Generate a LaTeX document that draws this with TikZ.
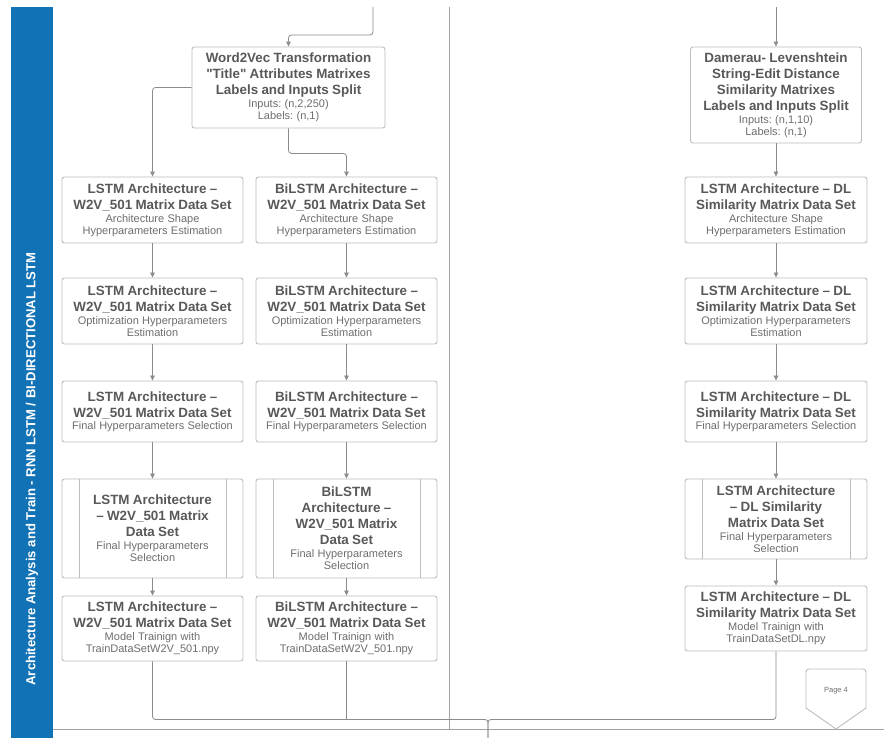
\documentclass[tikz,border=0pt]{standalone}
\usepackage{fontspec}
\setmainfont{Liberation Sans}[Ligatures=TeXOff]
\usetikzlibrary{arrows.meta,calc}
\frenchspacing

\definecolor{bannerblue}{HTML}{1272B6}
\definecolor{titlegray}{HTML}{595959}
\definecolor{subgray}{HTML}{6E6E6E}
\definecolor{boxgray}{HTML}{BDBDBD}
\definecolor{linegray}{HTML}{8C8C8C}
\definecolor{framegray}{HTML}{A3A3A3}

\newcommand\boxhead{\fontsize{13.4}{16}\selectfont\bfseries\color{titlegray}}
\newcommand\boxsub{\fontsize{11}{13}\selectfont\mdseries\color{subgray}}

\tikzset{
  card/.style 2 args={draw=boxgray, line width=0.9pt, rounded corners=2.5pt,
    fill=white, align=center, inner sep=0pt, text width=168pt,
    minimum width=#1pt, minimum height=#2pt},
  flow/.style={draw=linegray, line width=0.8pt, rounded corners=3pt,
    -{Triangle[length=5pt,width=4.6pt]}},
  joinline/.style={draw=linegray, line width=0.8pt, rounded corners=3pt},
  twin/.style={draw=boxgray, line width=0.9pt},
  frame/.style={draw=framegray, line width=0.8pt}
}

\begin{document}
\begin{tikzpicture}[x=1pt,y=-1pt]
\useasboundingbox (0,0) rectangle (884,738);
\fill[white] (0,0) rectangle (884,738);

% side banner
\fill[bannerblue] (11,7) rectangle (53,738);
\node[rotate=90, text=white, font=\fontsize{13.1}{15}\selectfont\bfseries] (banner) at (32,469)
  {Architecture Analysis and Train - RNN LSTM / BI-DIRECTIONAL LSTM};

% lane divider and bottom rule
\draw[frame] (449.5,7) -- (449.5,729);
\draw[frame] (53,729) -- (884,729);

% ---------- Word2Vec lane ----------
\node[card={193}{81}] (w2v) at (288.5,87.5)
  {\boxhead Word2Vec Transformation\par "Title" Attributes Matrixes\par Labels and Inputs Split\par
   \boxsub Inputs: (n,2,250)\par Labels: (n,1)};

\node[card={181}{66}] (l1) at (152.5,210)
  {\boxhead LSTM Architecture –\par W2V\_501 Matrix Data Set\par
   \boxsub Architecture Shape\par Hyperparameters Estimation};
\node[card={181}{66}] (b1) at (346.5,210)
  {\boxhead BiLSTM Architecture –\par W2V\_501 Matrix Data Set\par
   \boxsub Architecture Shape\par Hyperparameters Estimation};

\node[card={181}{66}] (l2) at (152.5,311)
  {\boxhead LSTM Architecture –\par W2V\_501 Matrix Data Set\par
   \boxsub Optimization Hyperparameters\par Estimation};
\node[card={181}{66}] (b2) at (346.5,311)
  {\boxhead BiLSTM Architecture –\par W2V\_501 Matrix Data Set\par
   \boxsub Optimization Hyperparameters\par Estimation};

\node[card={181}{61}] (l3) at (152.5,411.5)
  {\boxhead LSTM Architecture –\par W2V\_501 Matrix Data Set\par
   \boxsub Final Hyperparameters Selection};
\node[card={181}{61}] (b3) at (346.5,411.5)
  {\boxhead BiLSTM Architecture –\par W2V\_501 Matrix Data Set\par
   \boxsub Final Hyperparameters Selection};

\node[card={181}{99}] (l4) at (152.5,528.5)
  {\boxhead LSTM Architecture\par – W2V\_501 Matrix\par Data Set\par
   \boxsub Final Hyperparameters\par Selection};
\node[card={181}{99}] (b4) at (346.5,528.5)
  {\boxhead BiLSTM\par Architecture –\par W2V\_501 Matrix\par Data Set\par
   \boxsub Final Hyperparameters\par Selection};

\node[card={181}{65}] (l5) at (152.5,628.5)
  {\boxhead LSTM Architecture –\par W2V\_501 Matrix Data Set\par
   \boxsub Model Trainign with\par TrainDataSetW2V\_501.npy};
\node[card={181}{65}] (b5) at (346.5,628.5)
  {\boxhead BiLSTM Architecture –\par W2V\_501 Matrix Data Set\par
   \boxsub Model Trainign with\par TrainDataSetW2V\_501.npy};

% ---------- Damerau-Levenshtein lane ----------
\node[card={171}{96}] (dam) at (776,95)
  {\boxhead Damerau- Levenshtein\par String-Edit Distance\par Similarity Matrixes\par Labels and Inputs Split\par
   \boxsub Inputs: (n,1,10)\par Labels: (n,1)};

\node[card={182}{66}] (r1) at (776,210)
  {\boxhead LSTM Architecture – DL\par Similarity Matrix Data Set\par
   \boxsub Architecture Shape\par Hyperparameters Estimation};
\node[card={182}{66}] (r2) at (776,311)
  {\boxhead LSTM Architecture – DL\par Similarity Matrix Data Set\par
   \boxsub Optimization Hyperparameters\par Estimation};
\node[card={182}{61}] (r3) at (776,411.5)
  {\boxhead LSTM Architecture – DL\par Similarity Matrix Data Set\par
   \boxsub Final Hyperparameters Selection};
\node[card={182}{80}] (r4) at (776,519)
  {\boxhead LSTM Architecture\par – DL Similarity\par Matrix Data Set\par
   \boxsub Final Hyperparameters\par Selection};
\node[card={182}{65}] (r5) at (776,618.5)
  {\boxhead LSTM Architecture – DL\par Similarity Matrix Data Set\par
   \boxsub Model Trainign with\par TrainDataSetDL.npy};

% predefined-process side bars
\foreach \n in {l4,b4,r4}{
  \draw[twin] ([xshift=17.5pt]\n.north west) -- ([xshift=17.5pt]\n.south west);
  \draw[twin] ([xshift=-17.5pt]\n.north east) -- ([xshift=-17.5pt]\n.south east);
}

% off-page connector
\draw[draw=boxgray, line width=0.9pt] (836,729) -- (806,708) [rounded corners=3pt] -- (806,669)
  -- (866,669) [sharp corners] -- (866,708) -- cycle;
\node[font=\fontsize{7.5}{9}\selectfont, text=subgray] (pg) at (836,691) {Page 4};

% ---------- connectors ----------
\coordinate (inL) at (373,7);
\coordinate (inR) at (776,7);
\coordinate (merge) at (488,719.5);
\coordinate (out) at (488,738);

\draw[flow] (inL) -- ++(0,28) -| (w2v.north);
\draw[flow] (inR) -- (dam.north);
\draw[flow] (w2v.west) -| (l1.north);
\draw[flow] (w2v.south) -- ++(0,25) -| (b1.north);
\draw[flow] (dam.south) -- (r1.north);

\foreach \a/\b in {l1/l2,l2/l3,l3/l4,l4/l5,b1/b2,b2/b3,b3/b4,b4/b5,r1/r2,r2/r3,r3/r4,r4/r5}
  \draw[flow] (\a.south) -- (\b.north);

\draw[joinline] (l5.south) |- (merge) -- (out);
\draw[joinline] (r5.south) |- (merge) -- (out);
\draw[joinline] (b5.south) -- (b5.south |- merge);
\end{tikzpicture}
\end{document}
